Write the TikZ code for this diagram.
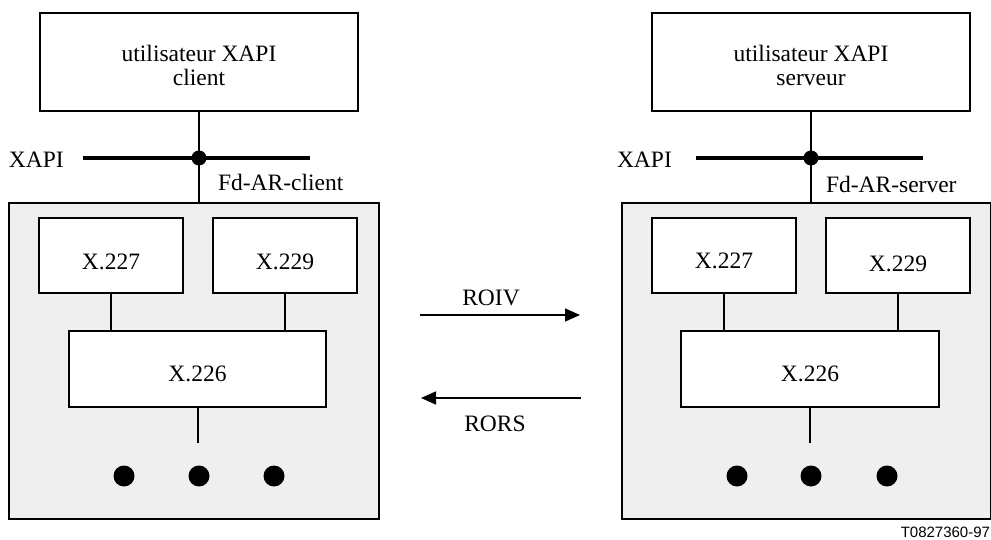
\documentclass[tikz,border=0pt]{standalone}
\usepackage{fontspec}
\setmainfont{Liberation Serif}
\newfontfamily\refsans{Liberation Sans}
\usetikzlibrary{arrows.meta}
\definecolor{panel}{RGB}{239,239,239}
\begin{document}
\begin{tikzpicture}[x=1pt,y=-1pt,
  every node/.style={inner sep=0pt, outer sep=0pt},
  txt/.style={font=\fontsize{23.5}{23.5}\selectfont},
  box/.style={draw, line width=1.2pt, fill=white, txt},
  upper/.style={box, minimum width=144, minimum height=75, text height=28pt, text depth=0pt},
  lower/.style={box, minimum width=257, minimum height=76, text height=25pt, text depth=0pt},
  user/.style={box, minimum width=318, minimum height=98},
  stack/.style={draw, line width=1.2pt, fill=panel, minimum width=370, minimum height=316},
  link/.style={line width=1.5pt},
  bus/.style={line width=3.8pt},
  junction/.style={circle, fill=black, minimum size=15pt},
  more/.style={circle, fill=black, minimum size=21pt},
  msg/.style={line width=1.6pt, -{Triangle[length=15pt,width=13pt]}}]
\useasboundingbox (0,0) rectangle (991,540);

% ---------- client side ----------
\node[user] (ucl) at (199,62) {};
\node[txt, align=center] at (199,65.5) {utilisateur XAPI\\client};
\node[stack] (scl) at (194,361) {};
\coordinate (bcl1) at (83,158);
\coordinate (bcl2) at (310,158);
\draw[link] (ucl.south) -- (ucl.south |- scl.north);
\draw[bus] (bcl1) -- (bcl2);
\node[junction] (jcl) at (199,158) {};
\node[txt, anchor=base west] (xcl) at (9,168) {XAPI};
\node[txt, anchor=base west] (fcl) at (218,191) {Fd-AR-client};

\node[upper] (a7l) at (111,255.5) {X.227};
\node[upper] (a9l) at (285,255.5) {X.229};
\node[lower] (a6l) at (197.5,369) {X.226};
\draw[link] (a7l.south) -- (a7l.south |- a6l.north);
\draw[link] (a9l.south) -- (a9l.south |- a6l.north);
\coordinate (tcl) at (198,443);
\draw[link] (a6l.south -| tcl) -- (tcl);
\node[more] (d1l) at (124,476) {};
\node[more] (d2l) at (199,476) {};
\node[more] (d3l) at (274,476) {};

% ---------- server side ----------
\node[user] (usv) at (811,62) {};
\node[txt, align=center] at (811,65.5) {utilisateur XAPI\\serveur};
\node[stack, minimum width=369] (ssv) at (806.5,361) {};
\coordinate (bsv1) at (696,158);
\coordinate (bsv2) at (923,158);
\draw[link] (usv.south) -- (usv.south |- ssv.north);
\draw[bus] (bsv1) -- (bsv2);
\node[junction] (jsv) at (811,158) {};
\node[txt, anchor=base west] (xsv) at (617,168) {XAPI};
\node[txt, anchor=base west] (fsv) at (826,193) {Fd-AR-server};

\node[upper, text height=27pt] (a7s) at (724,255.5) {X.227};
\node[upper, text height=32pt] (a9s) at (898,255.5) {X.229};
\node[lower, minimum width=258] (a6s) at (810,369) {X.226};
\draw[link] (a7s.south) -- (a7s.south |- a6s.north);
\draw[link] (a9s.south) -- (a9s.south |- a6s.north);
\coordinate (tsv) at (810,443);
\draw[link] (a6s.south -| tsv) -- (tsv);
\node[more] (d1s) at (737,476) {};
\node[more] (d2s) at (811,476) {};
\node[more] (d3s) at (887,476) {};

% ---------- exchanged messages ----------
\coordinate (rq1) at (420,315);
\coordinate (rq2) at (580,315);
\draw[msg] (rq1) -- (rq2);
\node[txt, anchor=base] (roiv) at (491,305.5) {ROIV};
\coordinate (rs1) at (581,398);
\coordinate (rs2) at (421,398);
\draw[msg] (rs1) -- (rs2);
\node[txt, anchor=base] (rors) at (495,431.5) {RORS};

\node[font=\refsans\fontsize{15}{15}\selectfont, anchor=base east] (ref) at (990,537) {T0827360-97};
\end{tikzpicture}
\end{document}
